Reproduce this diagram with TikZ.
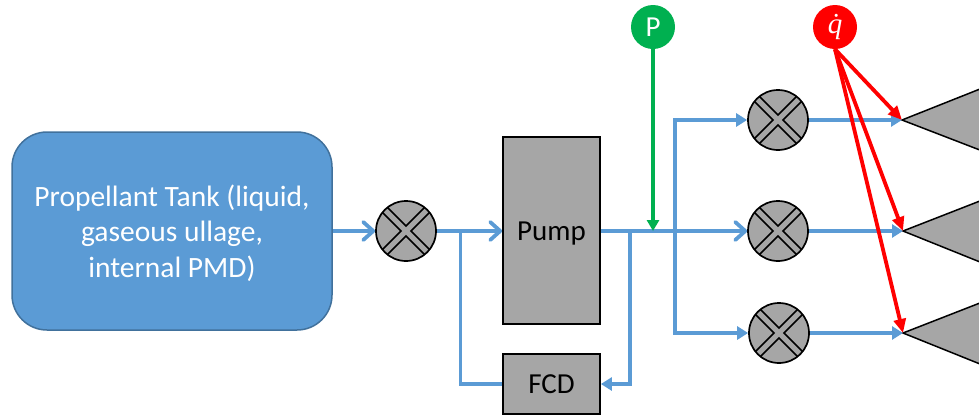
\documentclass[tikz,border=0pt]{standalone}
\usepackage{fontspec}
\setmainfont{Carlito}
\newfontfamily\qfont{Liberation Serif}
\usetikzlibrary{arrows.meta}
\definecolor{flow}{HTML}{5B9BD5}
\definecolor{tankedge}{HTML}{41719C}
\definecolor{part}{HTML}{A6A6A6}
\definecolor{pgreen}{HTML}{00B050}
\definecolor{qred}{HTML}{FF0000}
\tikzset{
  tankbox/.style={draw=tankedge,line width=1.5pt,fill=flow,rounded corners=35pt,minimum width=320pt,minimum height=198pt,inner sep=0pt,text=white,font=\fontsize{29.5}{35.5}\selectfont},
  partbox/.style={draw=black,line width=1.8pt,fill=part,minimum width=97pt,inner sep=0pt,font=\fontsize{29}{32}\selectfont},
  valve/.style={circle,draw=black,line width=1.7pt,fill=part,minimum size=60pt,inner sep=0pt},
  valvemark/.style={draw=black,line width=1.7pt},
  source/.style={circle,minimum size=44pt,inner sep=0pt,text=white,font=\fontsize{29}{32}\selectfont},
  nozzle/.style={draw=black,line width=1.5pt,fill=part},
  pipe/.style={draw=flow,line width=3.8pt},
  openpipe/.style={pipe,-{Straight Barb[length=10pt,width=18pt,line width=3.8pt,round]}},
  fillpipe/.style={pipe,-{Triangle[length=11pt,width=13pt]}},
  greenline/.style={draw=pgreen,line width=3.4pt,-{Triangle[length=11pt,width=12pt]}},
  redline/.style={draw=qred,line width=3.8pt,-{Triangle[length=14pt,width=12pt]}}
}
\begin{document}
\begin{tikzpicture}[x=1pt,y=-1pt]
\useasboundingbox (0,0) rectangle (979,416);
\clip (0,0) rectangle (979,416);

% nozzles
\coordinate (tipa) at (902,120);
\coordinate (tipb) at (903,231);
\coordinate (tipc) at (903,333);
\draw[nozzle] (tipa) -- (985,87) -- (985,152) -- cycle;
\draw[nozzle] (tipb) -- (985,199) -- (985,264) -- cycle;
\draw[nozzle] (tipc) -- (985,301) -- (985,366) -- cycle;

% junctions
\coordinate (ja) at (460.5,231);
\coordinate (jb) at (630,231);
\coordinate (jc) at (653,231);
\coordinate (jd) at (675,231);

\node[tankbox] (tank) at (172,231) {\raisebox{-2pt}[\height][\depth]{\parbox{300pt}{\centering Propellant Tank (liquid,\\gaseous ullage,\\internal PMD)}}};
\node[partbox,minimum height=187pt] (pump) at (551.5,230.5) {\raisebox{-3pt}[\height][\depth]{Pump}};
\node[partbox,minimum height=60pt] (fcd) at (551.5,384) {FCD};
\node[valve] (v0) at (406,231) {};
\node[valve] (va) at (778,120) {};
\node[valve] (vb) at (778,231) {};
\node[valve] (vc) at (779,333) {};
\node[source,fill=pgreen] (P) at (653,27) {P};
\node[source,fill=qred] (q) at (835,27) {\qfont\itshape\.{q}};

\foreach \v in {v0,va,vb,vc}{
  \draw[valvemark,shift={(\v.center)}]
    (-18.8,-23.8) -- (0,-5) -- (18.8,-23.8)
    (-18.8,23.8) -- (0,5) -- (18.8,23.8)
    (-23.8,-18.8) -- (-5,0) -- (-23.8,18.8)
    (23.8,-18.8) -- (5,0) -- (23.8,18.8);
}

% flow
\draw[openpipe] (tank.east |- v0) -- (v0.west);
\draw[openpipe] (v0.east) -- (pump.west |- v0);
\draw[pipe] (ja) |- (fcd.west);
\draw[pipe] (pump.east |- jb) -- (jd);
\draw[fillpipe] (jb) |- (fcd.east);
\draw[fillpipe] (jd) |- (va.west);
\draw[openpipe] (jd) -- (vb.west);
\draw[fillpipe] (jd) |- (vc.west);
\draw[fillpipe] (va.east) -- (tipa);
\draw[fillpipe] (vb.east) -- (tipb);
\draw[fillpipe] (vc.east) -- (tipc);

% sources
\draw[greenline] (P.south) -- (jc);
\draw[redline] (q.south) -- (tipa);
\draw[redline] (q.south) -- (tipb);
\draw[redline] (q.south) -- (tipc);
\end{tikzpicture}
\end{document}
